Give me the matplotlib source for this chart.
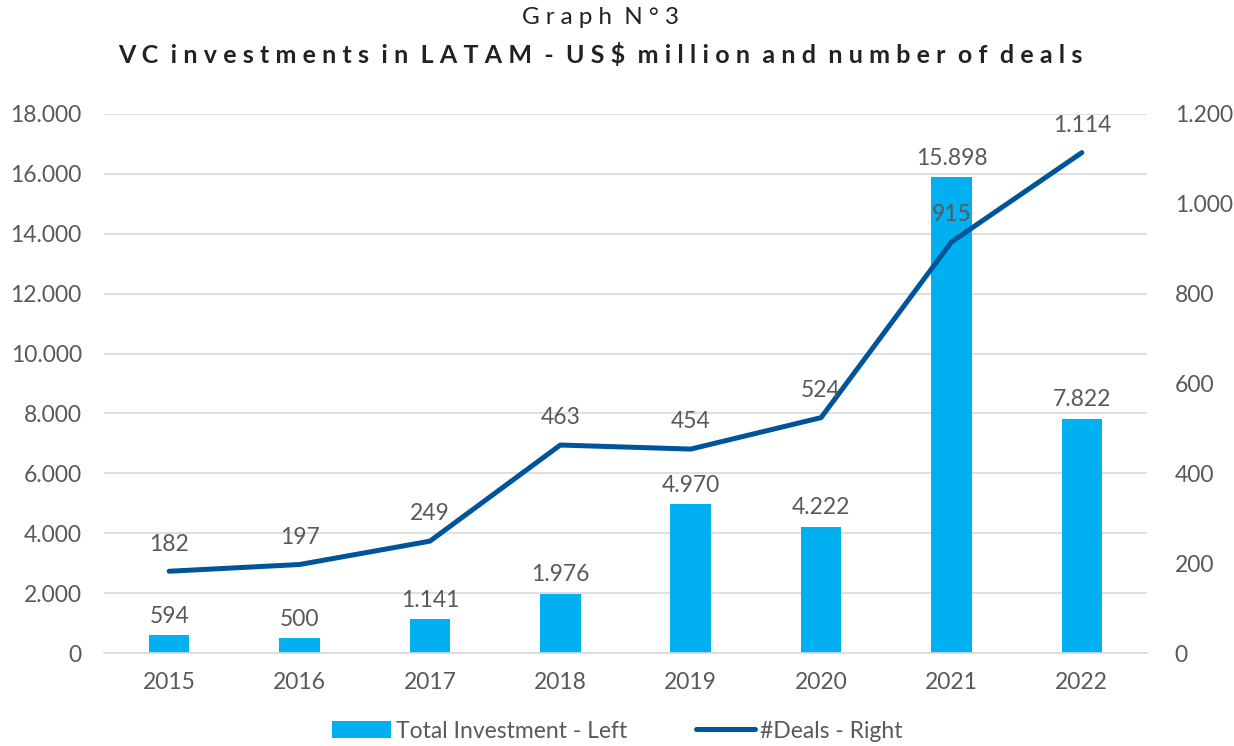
import numpy as np
import matplotlib.pyplot as plt
from matplotlib.ticker import FuncFormatter, MultipleLocator

years = ['2015', '2016', '2017', '2018', '2019', '2020', '2021', '2022']
investment = [594, 500, 1141, 1976, 4970, 4222, 15898, 7822]
deals = [182, 197, 249, 463, 454, 524, 915, 1114]

BAR_COLOR = '#00B0F0'
LINE_COLOR = '#00559A'
TEXT_COLOR = '#595959'
FS = 16.5


def dot_thousands(v, pos=None):
    return f'{int(round(v)):,}'.replace(',', '.')


def spaced(s, sep):
    # letter spacing for the headings, word gaps kept tighter
    words = [sep.join(w) for w in s.split(' ')]
    return (sep + ' ').join(words)


plt.rcParams['font.family'] = ['Lato', 'DejaVu Sans']

fig = plt.figure(figsize=(12.34, 7.46), dpi=100)
ax = fig.add_axes([104 / 1234, 1 - 653 / 746, (1147 - 104) / 1234, (653 - 114) / 746])
ax2 = ax.twinx()

x = np.arange(len(years))
bars = ax.bar(x, investment, width=0.31, color=BAR_COLOR, zorder=2,
              label='Total Investment - Left')
line, = ax2.plot(x, deals, color=LINE_COLOR, lw=3.6, solid_capstyle='round',
                 zorder=3, label='#Deals - Right')

ax.set_xlim(-0.5, len(years) - 0.5)
ax.set_ylim(0, 18000)
ax2.set_ylim(0, 1200)
ax.yaxis.set_major_locator(MultipleLocator(2000))
ax2.yaxis.set_major_locator(MultipleLocator(200))
ax.yaxis.set_major_formatter(FuncFormatter(dot_thousands))
ax2.yaxis.set_major_formatter(FuncFormatter(dot_thousands))
ax.set_xticks(x)
ax.set_xticklabels(years)

ax.grid(axis='y', color='#D9D9D9', lw=1.2, zorder=0)
ax.set_axisbelow(True)
for a in (ax, ax2):
    for s in a.spines.values():
        s.set_visible(False)
    a.tick_params(length=0, colors=TEXT_COLOR, labelsize=FS)
ax.spines['bottom'].set_visible(True)
ax.spines['bottom'].set_color('#D9D9D9')
ax.spines['bottom'].set_linewidth(1.2)
ax.tick_params(axis='y', pad=16)
ax2.tick_params(axis='y', pad=20)
ax.tick_params(axis='x', pad=14)

# value labels
for xi, v in zip(x, investment):
    ax.annotate(dot_thousands(v), (xi, v), xytext=(0, 6), textcoords='offset points',
                ha='center', va='bottom', color=TEXT_COLOR, fontsize=FS)
for xi, v in zip(x, deals):
    ax2.annotate(dot_thousands(v), (xi, v), xytext=(0, 12), textcoords='offset points',
                 ha='center', va='bottom', color=TEXT_COLOR, fontsize=FS)

title_x = 600 / 1234
fig.text(title_x, 1 - 17 / 746, spaced('Graph N°3', '\u2009\u2009'), ha='center', va='center',
         fontsize=17.5, color='#222222')
fig.text(title_x, 1 - 55 / 746,
         spaced('VC investments in LATAM - US$ million and number of deals', '\u2009\u2009'),
         ha='center', va='center', fontsize=18, fontweight='bold', color='#222222')

fig.legend(handles=[bars, line], loc='center', bbox_to_anchor=(0.5, 1 - 731 / 746),
           ncol=2, frameon=False, fontsize=FS, labelcolor=TEXT_COLOR,
           handlelength=2.6, handletextpad=0.2, columnspacing=3.0)

fig.savefig('out.png', dpi=100)
